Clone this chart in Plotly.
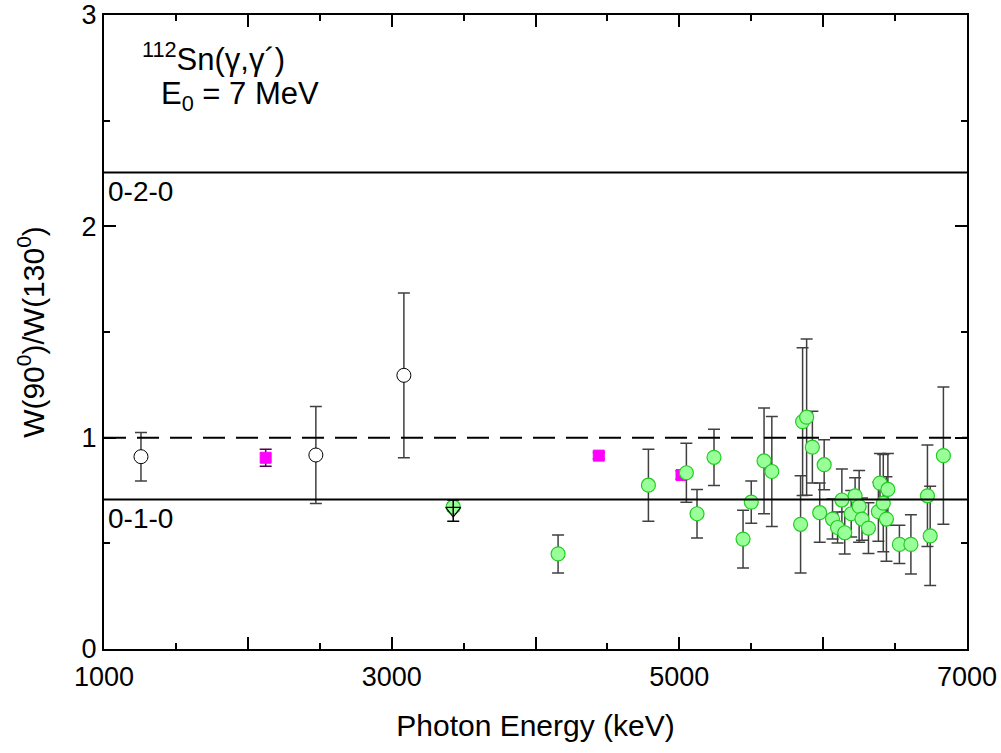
import plotly.graph_objects as go

# ---- data ----
open_x = [1257, 2473, 3085]
open_y = [0.910, 0.918, 1.295]
open_err = [0.115, 0.23, 0.39]

mag_x = [2124, 4440, 5015]
mag_y = [0.905, 0.915, 0.823]
mag_err = [0.04, 0.015, 0.02]

tri_x = [3428]
tri_y = [0.655]
tri_err = [0.05]

green_x = [3428, 4157, 4785, 5049, 5123, 5241, 5443, 5500, 5589, 5643,
           5843, 5857, 5885, 5925, 5976, 6007, 6065, 6100, 6130, 6150,
           6195, 6222, 6250, 6270, 6315, 6384, 6395, 6418, 6440, 6450,
           6530, 6610, 6725, 6744, 6836]
green_y = [0.672, 0.450, 0.775, 0.834, 0.640, 0.907, 0.520, 0.695, 0.890, 0.840,
           0.590, 1.076, 1.097, 0.955, 0.645, 0.872, 0.615, 0.575, 0.705, 0.550,
           0.640, 0.725, 0.675, 0.615, 0.572, 0.650, 0.785, 0.690, 0.615, 0.755,
           0.495, 0.495, 0.725, 0.535, 0.915]
green_err = [0.02, 0.09, 0.17, 0.14, 0.115, 0.133, 0.137, 0.10, 0.25, 0.26,
             0.23, 0.35, 0.37, 0.17, 0.14, 0.118, 0.095, 0.073, 0.147, 0.10,
             0.11, 0.085, 0.17, 0.10, 0.12, 0.14, 0.14, 0.23, 0.20, 0.17,
             0.09, 0.14, 0.24, 0.235, 0.325]

line_020 = 2.255
line_010 = 0.708
line_ref = 1.0

x_tickvals = [1000, 2000, 3000, 4000, 5000, 6000, 7000]
x_ticktext = ["1000", "", "3000", "", "5000", "", "7000"]
y_tickvals = [0, 1, 2, 3]
y_ticktext = ["0", "1", "2", "3"]

FONT = "Arial, Liberation Sans, sans-serif"
ERRC = "#404040"

fig = go.Figure()

fig.add_trace(go.Scatter(
    x=open_x, y=open_y, mode="markers",
    error_y=dict(type="data", array=open_err, color=ERRC, thickness=1.5, width=6),
    marker=dict(symbol="circle", size=14, color="white", line=dict(color="black", width=1)),
    showlegend=False))

fig.add_trace(go.Scatter(
    x=mag_x, y=mag_y, mode="markers",
    error_y=dict(type="data", array=mag_err, color="#550055", thickness=1.5, width=6),
    marker=dict(symbol="square", size=11, color="#ff00ff", line=dict(color="#ff00ff", width=1)),
    showlegend=False))

fig.add_trace(go.Scatter(
    x=green_x, y=green_y, mode="markers",
    error_y=dict(type="data", array=green_err, color=ERRC, thickness=1.5, width=6),
    marker=dict(symbol="circle", size=14, color="#99ff99", line=dict(color="#22cc22", width=1.2)),
    showlegend=False))

fig.add_trace(go.Scatter(
    x=tri_x, y=tri_y, mode="markers",
    error_y=dict(type="data", array=tri_err, color="black", thickness=1.5, width=6),
    marker=dict(symbol="triangle-down-open", size=13, color="black", line=dict(color="black", width=1.2)),
    showlegend=False))

# theory / reference lines
for val, dash in [(line_020, "solid"), (line_010, "solid"), (line_ref, "22px,11px")]:
    fig.add_shape(type="line", xref="paper", x0=0, x1=1, yref="y", y0=val, y1=val,
                  line=dict(color="black", width=2, dash=dash), layer="above")

fig.add_annotation(x=1000, y=line_020, xref="x", yref="y", text="0-2-0", showarrow=False,
                   xanchor="left", yanchor="top", xshift=2, yshift=-2,
                   font=dict(family=FONT, size=28, color="black"))
fig.add_annotation(x=1000, y=line_010, xref="x", yref="y", text="0-1-0", showarrow=False,
                   xanchor="left", yanchor="top", xshift=2, yshift=-2,
                   font=dict(family=FONT, size=28, color="black"))

fig.add_annotation(x=0.042, y=0.934, xref="paper", yref="paper",
                   text="<sup>112</sup>Sn(γ,γ´)", showarrow=False,
                   xanchor="left", yanchor="middle",
                   font=dict(family=FONT, size=31, color="black"))
fig.add_annotation(x=0.064, y=0.872, xref="paper", yref="paper",
                   text="E<sub>0</sub> = 7 MeV", showarrow=False,
                   xanchor="left", yanchor="middle",
                   font=dict(family=FONT, size=31, color="black"))

axis_common = dict(showline=True, linecolor="black", linewidth=2, mirror="allticks",
                   ticks="inside", ticklen=12, tickwidth=2, tickcolor="black",
                   showgrid=False, zeroline=False,
                   tickfont=dict(family=FONT, size=27, color="black"))

fig.update_xaxes(range=[1000, 7000], tickmode="array", tickvals=x_tickvals, ticktext=x_ticktext,
                 minor=dict(ticks="inside", ticklen=6, tickwidth=2, tickcolor="black", dtick=500),
                 ticklabelstandoff=3,
                 title=dict(text="Photon Energy (keV)", font=dict(family=FONT, size=30, color="black"),
                            standoff=24),
                 **axis_common)
fig.update_yaxes(range=[0, 3], tickmode="array", tickvals=y_tickvals, ticktext=y_ticktext,
                 minor=dict(ticks="inside", ticklen=6, tickwidth=2, tickcolor="black", dtick=0.5),
                 title=dict(text="W(90<sup>0</sup>)/W(130<sup>0</sup>)",
                            font=dict(family=FONT, size=30, color="black"), standoff=28),
                 **axis_common)

fig.update_layout(width=1001, height=753, margin=dict(l=104, r=34, t=15, b=104, autoexpand=False),
                  plot_bgcolor="white", paper_bgcolor="white", showlegend=False)

fig.write_html("out.html")
